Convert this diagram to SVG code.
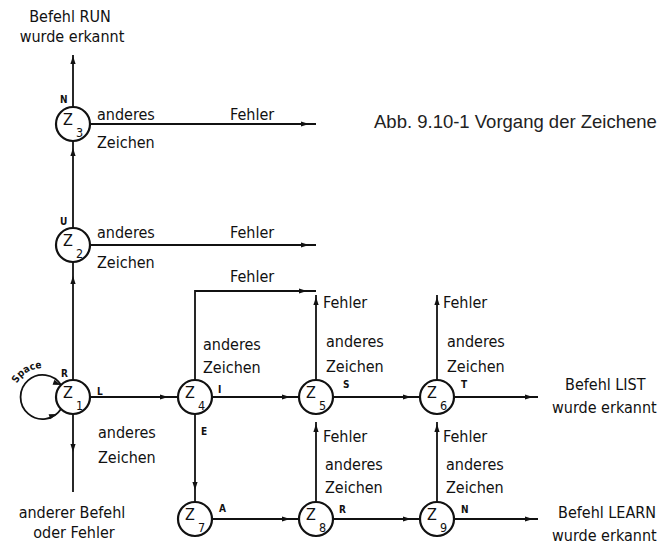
<svg xmlns="http://www.w3.org/2000/svg" xmlns:xlink="http://www.w3.org/1999/xlink" width="661" height="545" viewBox="0 0 661 545">
<style>
  text { font-family: "DejaVu Sans Condensed", "DejaVu Sans", sans-serif; font-stretch: condensed; fill: #111; }
  .t { font-size: 16px; }
  .m { text-anchor: middle; }
  .s { font-size: 10px; font-weight: bold; }
  .z { font-size: 16px; }
  .zi { font-size: 12.5px; }
  .cap { font-family: "Liberation Sans", Arial, sans-serif; font-stretch: normal; font-size: 18.5px; fill: #222; }
  .node circle { fill: #fff; stroke: #111; stroke-width: 2.2; }
  #connectors path { fill: none; stroke: #111; stroke-width: 1.8; }
  .ah { fill: #111; stroke: none; }
</style>
<defs>
  <path id="ah" class="ah" d="M0,0 L-8,-2.6 L-8,2.6 Z"/>
  <path id="loopText" d="M15.4,387.1 A29,29 0 0,1 50.1,369"/>
</defs>
<rect width="661" height="545" fill="#fff"/>

<g id="connectors">
  <path d="M73,107 V55"/>
  <path d="M90,124 H316"/>
  <path d="M73,228 V141"/>
  <path d="M90,245 H316"/>
  <path d="M73,380 V262"/>
  <path d="M61,409 A22,22 0 1,1 61,385"/>
  <path d="M90,397 H178"/>
  <path d="M73,414 V492"/>
  <path d="M195,380 V291 H316"/>
  <path d="M212,397 H299"/>
  <path d="M195,414 V502"/>
  <path d="M316,380 V295"/>
  <path d="M333,397 H420"/>
  <path d="M437,380 V295"/>
  <path d="M454,397 H538"/>
  <path d="M212,519 H299"/>
  <path d="M316,502 V422"/>
  <path d="M333,519 H420"/>
  <path d="M437,502 V422"/>
  <path d="M454,519 H538"/>
  <use xlink:href="#ah" transform="translate(73,56) rotate(-90)"/>
  <use xlink:href="#ah" transform="translate(309,124)"/>
  <use xlink:href="#ah" transform="translate(73,148) rotate(-90)"/>
  <use xlink:href="#ah" transform="translate(309,245)"/>
  <use xlink:href="#ah" transform="translate(73,276) rotate(-90)"/>
  <use xlink:href="#ah" transform="translate(61,385) rotate(20)"/>
  <use xlink:href="#ah" transform="translate(57,414) rotate(-20)"/>
  <use xlink:href="#ah" transform="translate(168,397)"/>
  <use xlink:href="#ah" transform="translate(73,452) rotate(90)"/>
  <use xlink:href="#ah" transform="translate(307,291)"/>
  <use xlink:href="#ah" transform="translate(290,397)"/>
  <use xlink:href="#ah" transform="translate(195,490) rotate(90)"/>
  <use xlink:href="#ah" transform="translate(316,297) rotate(-90)"/>
  <use xlink:href="#ah" transform="translate(411,397)"/>
  <use xlink:href="#ah" transform="translate(437,297) rotate(-90)"/>
  <use xlink:href="#ah" transform="translate(533,397)"/>
  <use xlink:href="#ah" transform="translate(290,519)"/>
  <use xlink:href="#ah" transform="translate(316,424) rotate(-90)"/>
  <use xlink:href="#ah" transform="translate(411,519)"/>
  <use xlink:href="#ah" transform="translate(437,424) rotate(-90)"/>
  <use xlink:href="#ah" transform="translate(533,519)"/>
</g>

<g id="labels">
  <text class="t m" x="70" y="22">Befehl RUN</text>
  <text class="t m" x="72" y="42">wurde erkannt</text>
  <text class="cap" x="374" y="128">Abb. 9.10-1 Vorgang der Zeichene</text>

  <text class="t" x="97" y="120">anderes</text>
  <text class="t" x="230" y="120">Fehler</text>
  <text class="t" x="97" y="148">Zeichen</text>
  <text class="s" x="60" y="103">N</text>

  <text class="t" x="97" y="238">anderes</text>
  <text class="t" x="230" y="238">Fehler</text>
  <text class="t" x="97" y="268">Zeichen</text>
  <text class="s" x="60" y="225">U</text>

  <text class="t" x="230" y="282">Fehler</text>

  <text class="s"><textPath xlink:href="#loopText" startOffset="4">Space</textPath></text>
  <text class="s" x="61" y="377">R</text>
  <text class="s" x="97" y="395">L</text>
  <text class="t" x="98" y="438">anderes</text>
  <text class="t" x="98" y="463">Zeichen</text>
  <text class="t m" x="72" y="518">anderer Befehl</text>
  <text class="t m" x="74" y="538">oder Fehler</text>

  <text class="t" x="203" y="350">anderes</text>
  <text class="t" x="203" y="373">Zeichen</text>
  <text class="s" x="218" y="393">I</text>
  <text class="s" x="201" y="435">E</text>

  <text class="t" x="323" y="308">Fehler</text>
  <text class="t" x="326" y="347">anderes</text>
  <text class="t" x="326" y="372">Zeichen</text>
  <text class="s" x="343" y="388">S</text>

  <text class="t" x="443" y="308">Fehler</text>
  <text class="t" x="447" y="347">anderes</text>
  <text class="t" x="447" y="372">Zeichen</text>
  <text class="s" x="461" y="388">T</text>

  <text class="t" x="565" y="390">Befehl LIST</text>
  <text class="t" x="552" y="413">wurde erkannt</text>

  <text class="s" x="219" y="512">A</text>

  <text class="t" x="323" y="442">Fehler</text>
  <text class="t" x="325" y="470">anderes</text>
  <text class="t" x="325" y="493">Zeichen</text>
  <text class="s" x="339" y="513">R</text>

  <text class="t" x="443" y="442">Fehler</text>
  <text class="t" x="446" y="470">anderes</text>
  <text class="t" x="446" y="493">Zeichen</text>
  <text class="s" x="461" y="513">N</text>

  <text class="t" x="558" y="518">Befehl LEARN</text>
  <text class="t" x="552" y="541">wurde erkannt</text>
</g>

<g id="Z3" class="node"><circle cx="73" cy="124" r="17"/><text class="z" x="63" y="125">Z</text><text class="zi" x="76" y="137">3</text></g>
<g id="Z2" class="node"><circle cx="73" cy="245" r="17"/><text class="z" x="63" y="246">Z</text><text class="zi" x="76" y="258">2</text></g>
<g id="Z1" class="node"><circle cx="73" cy="397" r="17"/><text class="z" x="63" y="398">Z</text><text class="zi" x="76" y="410">1</text></g>
<g id="Z4" class="node"><circle cx="195" cy="397" r="17"/><text class="z" x="185" y="398">Z</text><text class="zi" x="198" y="410">4</text></g>
<g id="Z5" class="node"><circle cx="316" cy="397" r="17"/><text class="z" x="306" y="398">Z</text><text class="zi" x="319" y="410">5</text></g>
<g id="Z6" class="node"><circle cx="437" cy="397" r="17"/><text class="z" x="427" y="398">Z</text><text class="zi" x="440" y="410">6</text></g>
<g id="Z7" class="node"><circle cx="195" cy="519" r="17"/><text class="z" x="185" y="520">Z</text><text class="zi" x="198" y="532">7</text></g>
<g id="Z8" class="node"><circle cx="316" cy="519" r="17"/><text class="z" x="306" y="520">Z</text><text class="zi" x="319" y="532">8</text></g>
<g id="Z9" class="node"><circle cx="437" cy="519" r="17"/><text class="z" x="427" y="520">Z</text><text class="zi" x="440" y="532">9</text></g>
</svg>
